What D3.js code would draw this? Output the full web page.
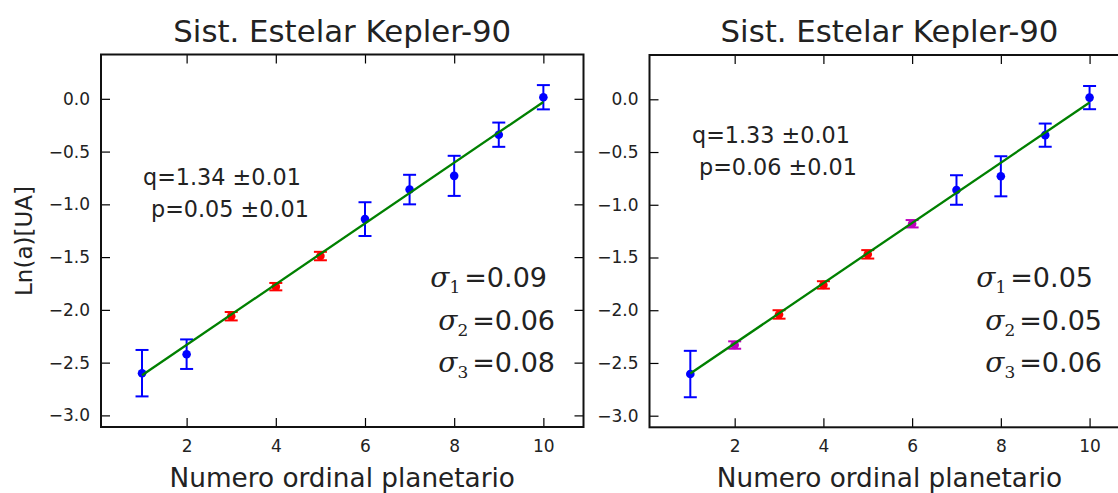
<!DOCTYPE html>
<html>
<head>
<meta charset="utf-8">
<script src="https://cdn.jsdelivr.net/npm/d3@7"></script>
<style>
  html, body { margin: 0; padding: 0; background: #fff; }
  svg { display: block; }
  text { font-family: "DejaVu Sans", sans-serif; fill: #222; }
</style>
</head>
<body>
<svg id="chart" width="1118" height="493"></svg>
<script>
// ---------------- data ----------------
const planetNumbers = [1, 2, 3, 4, 5, 6, 7, 8, 9, 10];

const leftValues = [-2.60, -2.42, -2.06, -1.78, -1.49, -1.14, -0.86, -0.73, -0.34, 0.015];
const leftErrors = [0.22, 0.14, 0.04, 0.035, 0.04, 0.16, 0.14, 0.19, 0.115, 0.115];
const leftGroups = ["g1", "g1", "g2", "g2", "g2", "g1", "g1", "g1", "g1", "g1"];
const leftFit = [[1, -2.62], [10, -0.03]];

const rightValues = [-2.605, -2.33, -2.04, -1.76, -1.47, -1.18, -0.86, -0.73, -0.34, 0.016];
const rightErrors = [0.22, 0.035, 0.04, 0.035, 0.04, 0.035, 0.14, 0.19, 0.11, 0.11];
const rightGroups = ["g1", "g3", "g2", "g2", "g2", "g3", "g1", "g1", "g1", "g1"];
const rightFit = [[1, -2.60], [10, -0.03]];

const xTicks = [2, 4, 6, 8, 10];
const yTicks = [0.0, -0.5, -1.0, -1.5, -2.0, -2.5, -3.0];
const xDomain = [0.08, 10.9];
const yDomain = [-3.11, 0.42];

const titleText = "Sist. Estelar Kepler-90";
const xLabelText = "Numero ordinal planetario";
const yLabelText = "Ln(a)[UA]";

const leftParams = ["q=1.34 \u00b10.01", "p=0.05 \u00b10.01"];
const rightParams = ["q=1.33 \u00b10.01", "p=0.06 \u00b10.01"];
const leftSigmas = ["0.09", "0.06", "0.08"];
const rightSigmas = ["0.05", "0.05", "0.06"];

// ---------------- drawing ----------------
const colorMap = { g1: "#0000ff", g2: "#ff0000", g3: "#bf00bf" };
const svg = d3.select("#chart");
const fmt = d3.format(".1f");

function panel(cfg) {
  const x = d3.scaleLinear().domain(xDomain).range([cfg.left, cfg.right]);
  const y = d3.scaleLinear().domain(yDomain).range([cfg.bottom, cfg.top]);
  const g = svg.append("g");
  const tick = 9;

  // axes (ticks inward)
  const bottom = g.append("g").attr("transform", `translate(0,${cfg.bottom})`)
    .call(d3.axisBottom(x).tickValues(xTicks).tickSizeInner(-tick).tickSizeOuter(0).tickPadding(13).tickFormat(d3.format("d")));
  const top = g.append("g").attr("transform", `translate(0,${cfg.top})`)
    .call(d3.axisTop(x).tickValues(xTicks).tickSizeInner(-tick).tickSizeOuter(0).tickFormat(""));
  const left = g.append("g").attr("transform", `translate(${cfg.left},0)`)
    .call(d3.axisLeft(y).tickValues(yTicks).tickSizeInner(-tick).tickSizeOuter(0).tickPadding(11).tickFormat(fmt));
  const right = g.append("g").attr("transform", `translate(${cfg.right},0)`)
    .call(d3.axisRight(y).tickValues(yTicks).tickSizeInner(-tick).tickSizeOuter(0).tickFormat(""));
  [bottom, top, left, right].forEach(a => {
    a.select(".domain").remove();
    a.selectAll(".tick line").attr("stroke", "#000").attr("stroke-width", 1.2);
    a.selectAll(".tick text").attr("font-size", 17).attr("font-family", "DejaVu Sans").attr("fill", "#222");
  });

  // error bars and points
  const data = planetNumbers.map((n, i) => ({ n, v: cfg.values[i], e: cfg.errors[i], c: colorMap[cfg.groups[i]] }));
  const eb = g.append("g").selectAll("g").data(data).join("g");
  const cap = 6.5;
  eb.append("line")
    .attr("x1", d => x(d.n)).attr("x2", d => x(d.n))
    .attr("y1", d => y(d.v - d.e)).attr("y2", d => y(d.v + d.e))
    .attr("stroke", d => d.c).attr("stroke-width", 2);
  eb.append("line")
    .attr("x1", d => x(d.n) - cap).attr("x2", d => x(d.n) + cap)
    .attr("y1", d => y(d.v + d.e)).attr("y2", d => y(d.v + d.e))
    .attr("stroke", d => d.c).attr("stroke-width", 2);
  eb.append("line")
    .attr("x1", d => x(d.n) - cap).attr("x2", d => x(d.n) + cap)
    .attr("y1", d => y(d.v - d.e)).attr("y2", d => y(d.v - d.e))
    .attr("stroke", d => d.c).attr("stroke-width", 2);
  eb.append("circle")
    .attr("cx", d => x(d.n)).attr("cy", d => y(d.v)).attr("r", 4.3)
    .attr("fill", d => d.c);

  // fit line
  g.append("path")
    .attr("d", d3.line().x(d => x(d[0])).y(d => y(d[1]))(cfg.fit))
    .attr("fill", "none").attr("stroke", "#008000").attr("stroke-width", 2.3);

  // frame
  g.append("rect")
    .attr("x", cfg.left).attr("y", cfg.top)
    .attr("width", cfg.right - cfg.left).attr("height", cfg.bottom - cfg.top)
    .attr("fill", "none").attr("stroke", "#111").attr("stroke-width", 2);

  // title & x label
  const cx = (cfg.left + cfg.right) / 2;
  g.append("text").attr("x", cx).attr("y", 42).attr("text-anchor", "middle")
    .attr("font-size", 30.8).text(titleText);
  g.append("text").attr("x", cx).attr("y", 486.5).attr("text-anchor", "middle")
    .attr("font-size", 26.3).text(xLabelText);

  // parameter annotations
  cfg.params.forEach((t, i) => {
    g.append("text").attr("x", cfg.paramX[i]).attr("y", cfg.paramY[i])
      .attr("font-size", 22.3).text(t);
  });

  // sigma annotations
  cfg.sigmas.forEach((s, i) => {
    const t = g.append("text").attr("x", cfg.sigmaX[i]).attr("y", cfg.sigmaY[i])
      .attr("text-anchor", "end").attr("font-size", 27);
    t.append("tspan").attr("font-family", "DejaVu Serif").attr("font-style", "italic")
      .attr("font-size", 28).text("\u03c3");
    t.append("tspan").attr("font-family", "DejaVu Serif").attr("font-size", 17)
      .attr("dy", 6).text(String(i + 1));
    t.append("tspan").attr("dy", -6).attr("dx", 4).text("=" + s);
  });
}

panel({
  left: 101, right: 583.5, top: 54.5, bottom: 427,
  values: leftValues, errors: leftErrors, groups: leftGroups, fit: leftFit,
  params: leftParams, paramX: [143, 151], paramY: [185, 217],
  sigmas: leftSigmas, sigmaX: [547, 555, 555], sigmaY: [287, 330, 372]
});
panel({
  left: 649.5, right: 1129.5, top: 55, bottom: 427.3,
  values: rightValues, errors: rightErrors, groups: rightGroups, fit: rightFit,
  params: rightParams, paramX: [692, 699], paramY: [143, 175],
  sigmas: rightSigmas, sigmaX: [1093, 1102, 1102], sigmaY: [287, 330, 372]
});

// y label (left panel only)
svg.append("text")
  .attr("transform", "translate(32,241) rotate(-90)")
  .attr("text-anchor", "middle").attr("font-size", 23)
  .text(yLabelText);
</script>
</body>
</html>
